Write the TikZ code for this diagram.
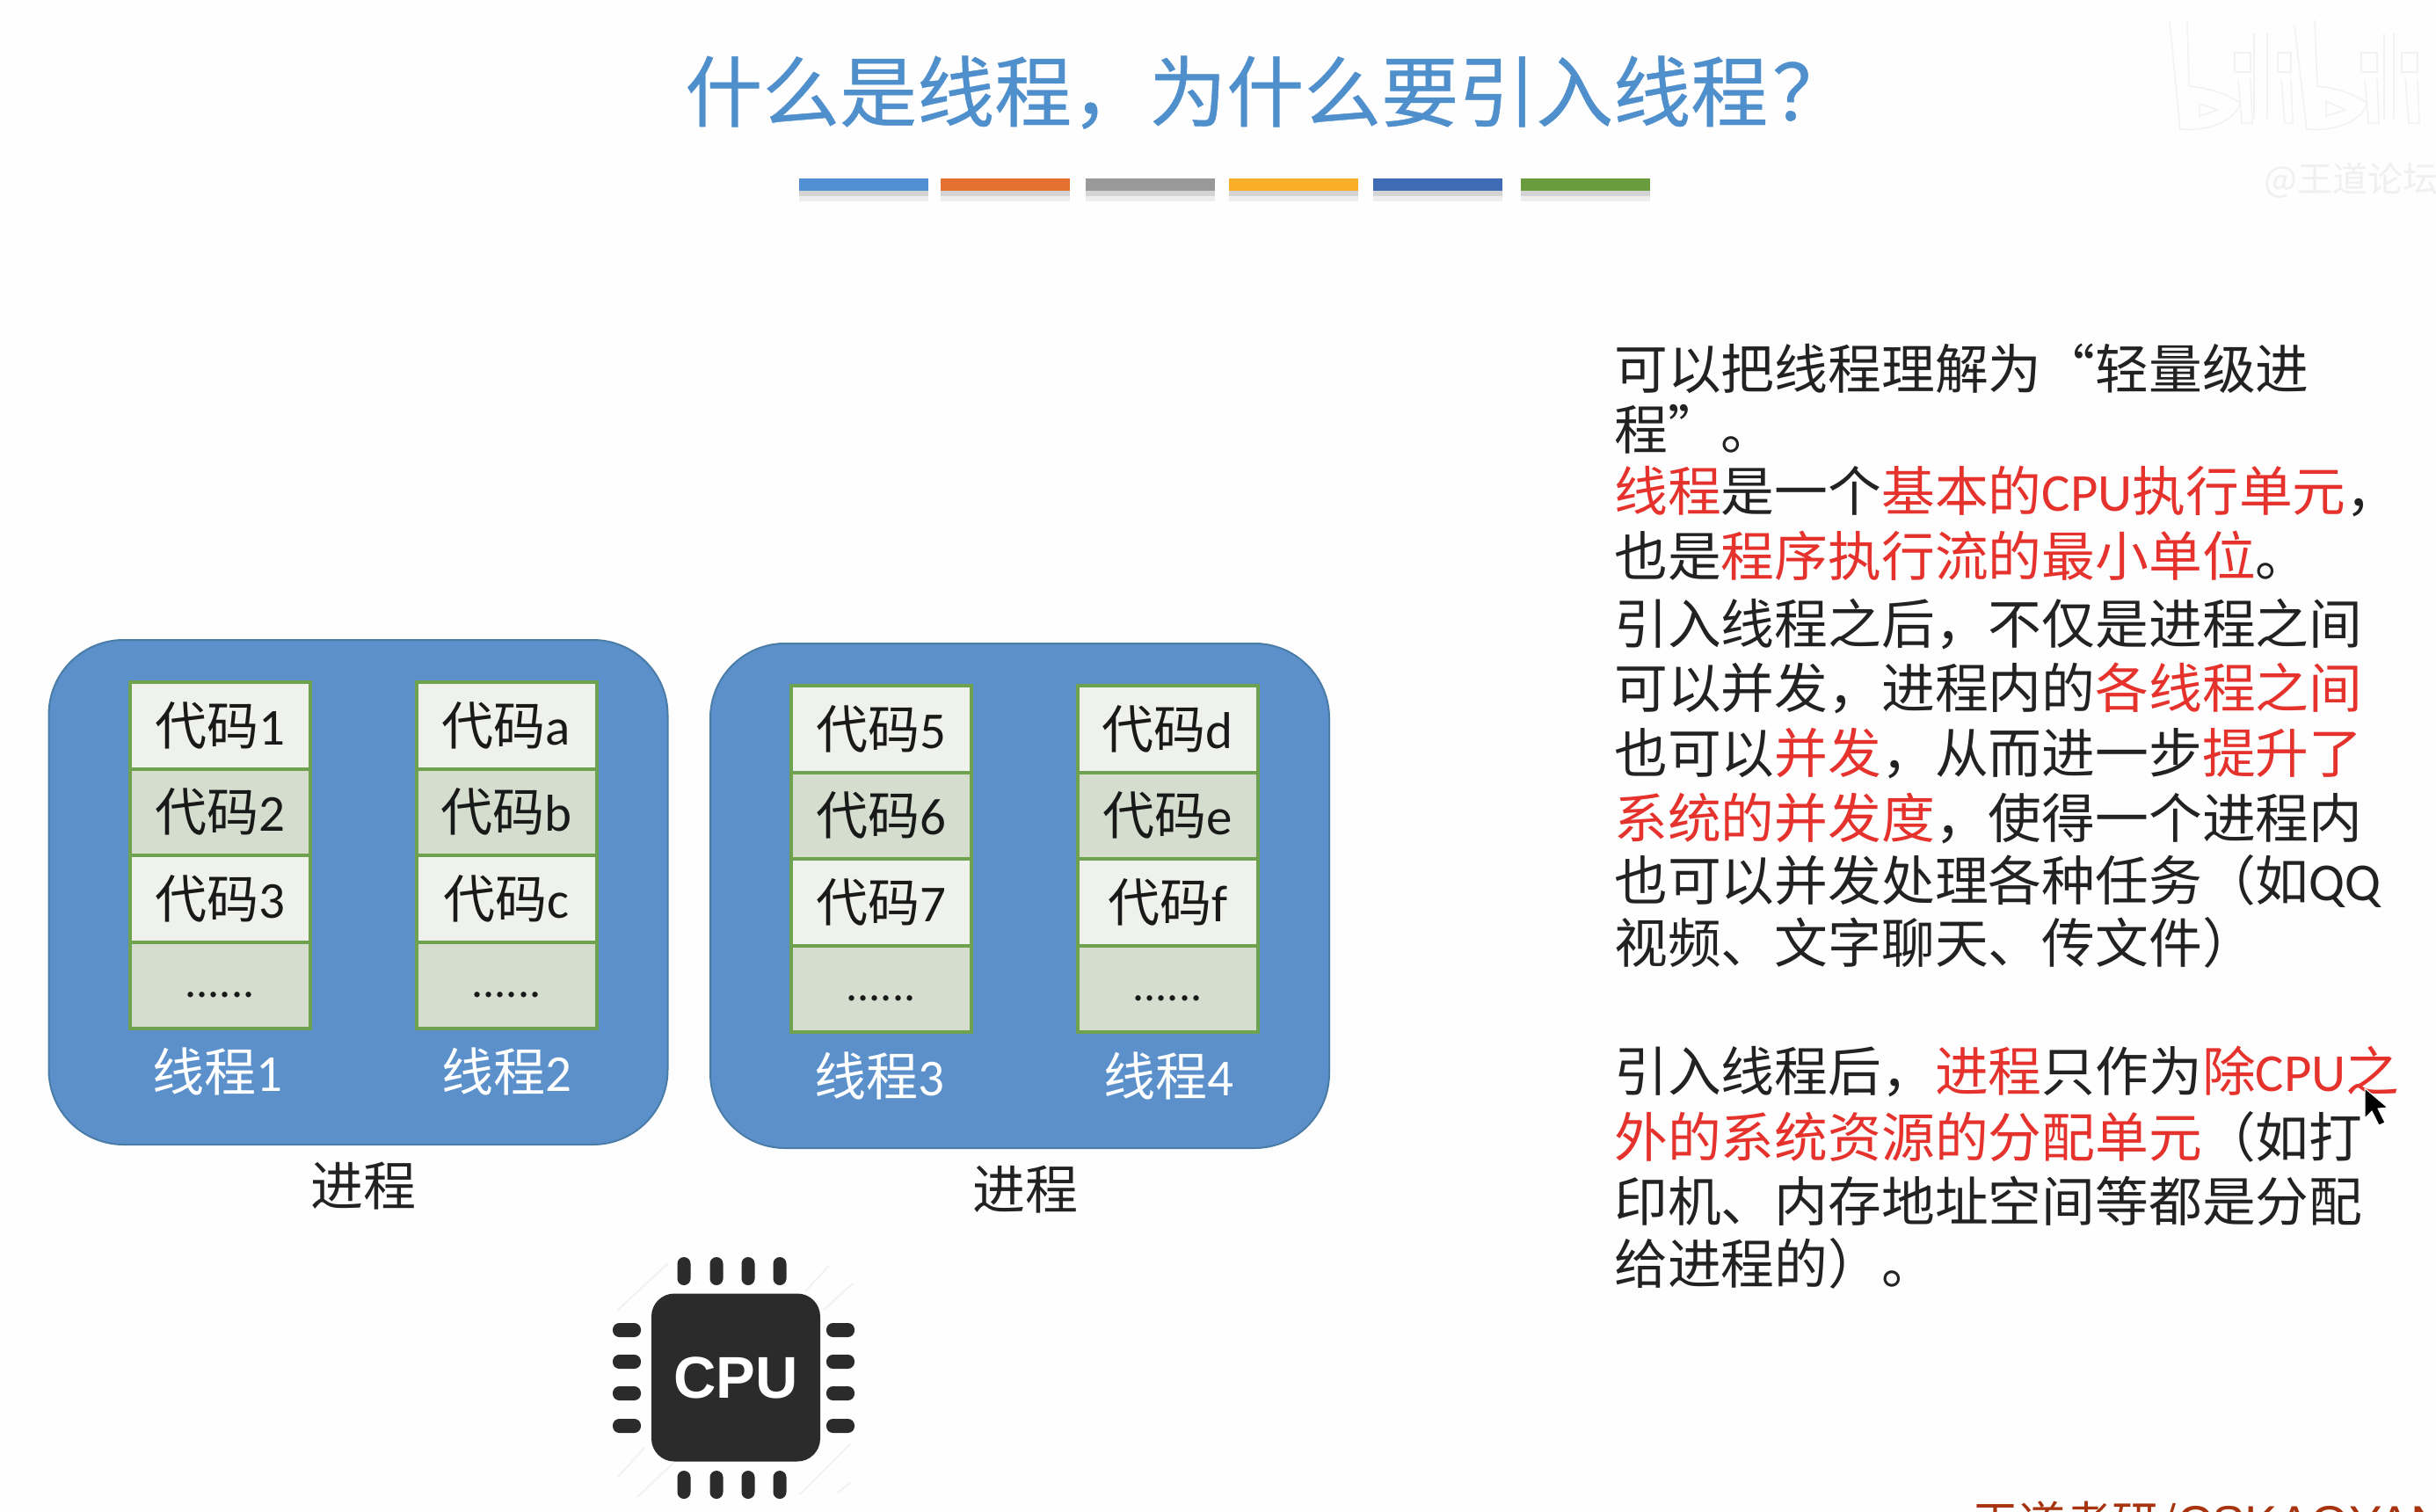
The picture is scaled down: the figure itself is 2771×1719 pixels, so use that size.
\documentclass[tikz,border=0pt]{standalone}
\usepackage{fontspec}
\setmainfont{Noto Sans CJK SC}
\newfontfamily\titlef[FakeBold=0.5]{Noto Sans CJK SC}
\newfontfamily\latinf{Carlito}
\newfontfamily\cpuf{Liberation Sans}
\usetikzlibrary{calc}
\definecolor{titleblue}{HTML}{4F8FCB}
\definecolor{procblue}{HTML}{5B90CB}
\definecolor{procedge}{HTML}{4A7CA8}
\definecolor{rowlight}{HTML}{EEF1EC}
\definecolor{rowdark}{HTML}{D5DDCF}
\definecolor{rowedge}{HTML}{6FA24E}
\definecolor{redtxt}{HTML}{E5322D}
\definecolor{txt}{HTML}{222222}
\definecolor{chip}{HTML}{2B2B2B}
\definecolor{brand}{HTML}{A8340F}
\newcommand{\lat}[1]{{\latinf #1}}
\newcommand{\rd}[1]{\textcolor{redtxt}{#1}}
\tikzset{
  para/.style={anchor=base west,inner sep=0pt,font=\fontsize{60.8}{61}\selectfont,text=txt},
  procbox/.style={draw=procedge,line width=2pt,fill=procblue,rounded corners=85pt,minimum width=704pt,minimum height=574pt,inner sep=0pt},
  rowbox/.style={draw=rowedge,line width=4pt,minimum width=205pt,minimum height=98.5pt,inner sep=0pt,font=\fontsize{59}{59}\selectfont,text=black!90},
  thlabel/.style={inner sep=0pt,text=white,font=\fontsize{59}{59}\selectfont},
  proclabel/.style={inner sep=0pt,text=txt,font=\fontsize{60}{60}\selectfont},
  barbox/.style={inner sep=0pt,minimum width=147pt,minimum height=14pt},
  barshadow/.style={inner sep=0pt,minimum width=147pt,minimum height=6pt},
  pinv/.style={fill=chip,rounded corners=7.5pt,minimum width=15pt,minimum height=32pt,inner sep=0pt},
  pinh/.style={fill=chip,rounded corners=7.5pt,minimum width=32pt,minimum height=16pt,inner sep=0pt},
  faint/.style={line width=2pt,line cap=round},
  wmline/.style={draw=black!5,line width=1.5pt}
}
% name, x centre, y of top, three labels
\newcommand{\stackcol}[6]{%
  \node[rowbox,fill=rowlight] (#1r1) at (#2,#3+49.25) {#4};
  \node[rowbox,fill=rowdark]  (#1r2) at (#2,#3+147.75) {#5};
  \node[rowbox,fill=rowlight] (#1r3) at (#2,#3+246.25) {#6};
  \node[rowbox,fill=rowdark]  (#1r4) at (#2,#3+344.75) {\fontsize{52}{52}\selectfont\raisebox{-0.55em}{\lat{......}}};
}
\newcommand{\tl}[3]{\node[para] (#1) at (1836,#2) {#3};}
\begin{document}
\begin{tikzpicture}[x=1pt,y=-1pt]
\useasboundingbox (0,0) rectangle (2771,1719);
\fill[white!99.6!black] (0,0) rectangle (2771,1719);
\clip (0,0) rectangle (2771,1719);

% title
\node[anchor=west,inner sep=0pt,text=titleblue,font=\fontsize{88}{88}\selectfont\titlef] (title) at (779,105) {什么是线程，为什么要引入线程\hspace{5pt}？};

% bars
\foreach \nm/\xc/\col in {a/982/4F8FD2,b/1143/E6702F,c/1308/999999,d/1471/F8AE28,e/1635/3E6BB3,f/1803/689C3C}{
  \definecolor{barcol}{HTML}{\col}
  \node[barshadow,fill=black!17] (sh\nm) at (\xc,220) {};
  \node[barshadow,fill=black!7] (so\nm) at (\xc,226) {};
  \node[barbox,fill=barcol] (bar\nm) at (\xc,210) {};
}

% watermark (faint)
\draw[wmline] (2468,25) -- (2480,147) .. controls (2515,150) and (2545,135) .. (2548,117) .. controls (2530,105) and (2510,100) .. (2490,98) -- (2488,25);
\draw[wmline] (2610,30) -- (2624,147) .. controls (2660,150) and (2690,135) .. (2692,117) .. controls (2675,105) and (2655,100) .. (2636,98) -- (2633,23);
\draw[wmline] (2502,118) -- (2502,132) -- (2522,125) -- cycle;
\draw[wmline] (2646,115) -- (2646,132) -- (2668,125) -- cycle;
\foreach \a/\b in {2542/2560,2591/2606,2686/2704,2732/2750}{
  \draw[wmline] (\a,60) rectangle (\b,82);
  \draw[wmline] (\a+4,90) -- (\a+8,140) -- (\b+2,140) -- (\b,90);
}
\foreach \a in {2564,2579,2712,2723}{
  \draw[wmline] (\a,38) -- (\a,135);
}
\node[anchor=west,inner sep=0pt,text=black!6,font=\fontsize{40}{40}\selectfont] (wm) at (2575,205) {@王道论坛};

% processes
\node[procbox] (p1) at (407.5,1015) {};
\node[procbox] (p2) at (1160,1019) {};
\stackcol{s1}{250}{776}{代码\lat{1}}{代码\lat{2}}{代码\lat{3}}
\stackcol{s2}{576}{776}{代码\lat{a}}{代码\lat{b}}{代码\lat{c}}
\stackcol{s3}{1002}{780}{代码\lat{5}}{代码\lat{6}}{代码\lat{7}}
\stackcol{s4}{1328}{780}{代码\lat{d}}{代码\lat{e}}{代码\lat{f}}
\node[thlabel] (t1) at (247,1219) {线程\lat{1}};
\node[thlabel] (t2) at (576,1219) {线程\lat{2}};
\node[thlabel] (t3) at (1000,1224) {线程\lat{3}};
\node[thlabel] (t4) at (1329,1224) {线程\lat{4}};
\node[proclabel] (pl1) at (413,1349) {进程};
\node[proclabel] (pl2) at (1166,1353) {进程};

% CPU
\foreach \a/\b/\c/\d in {703/1490/760/1437,917/1468/943/1440,937/1490/970/1460,703/1680/733/1647,725/1703/767/1663,910/1700/967/1643,953/1698/967/1687}{
  \draw[faint,draw=black!5] (\a,\b) -- (\c,\d);
}
\node[fill=chip,rounded corners=26pt,minimum width=192pt,minimum height=191pt,inner sep=0pt,text=white,font=\fontsize{67}{67}\selectfont\cpuf\bfseries] (cpu) at (837,1567) {\raisebox{-2pt}{CPU}};
\foreach \i/\p in {1/778,2/815,3/851,4/887}{
  \node[pinv] (pt\i) at (\p,1446) {};
  \node[pinv] (pb\i) at (\p,1689) {};
}
\foreach \i/\p in {1/1513,2/1549,3/1585,4/1622}{
  \node[pinh] (pl\i) at (713,\p) {};
  \node[pinh] (pr\i) at (956,\p) {};
}

% right text
\tl{l1}{442}{可以把线程理解为“轻量级进}
\tl{l2}{511}{程”。}
\tl{l3}{581}{\rd{线程}是一个\rd{基本的\lat{CPU}执行单元}，}
\tl{l4}{655}{也是\rd{程序执行流的最小单位}。}
\tl{l5}{732}{引入线程之后，不仅是进程之间}
\tl{l6}{805}{可以并发，进程内的\rd{各线程之间}}
\tl{l7}{879}{也可以\rd{并发}，从而进一步\rd{提升了}}
\tl{l8}{953}{\rd{系统的并发度}，使得一个进程内}
\tl{l9}{1024}{也可以并发处理各种任务（如\lat{QQ}}
\tl{l10}{1095}{视频、文字聊天、传文件）}
\tl{l11}{1241}{引入线程后，\rd{进程}只作为\rd{除\lat{CPU}之}}
\tl{l12}{1316}{\rd{外的系统资源的分配单元}（如打}
\tl{l13}{1389}{印机、内存地址空间等都是分配}
\tl{l14}{1460}{给进程的）。}

% cursor
\fill[black,draw=white,line width=1pt] (2690,1238) -- (2690,1272) -- (2698,1264) -- (2706,1280) -- (2713,1277) -- (2705,1261) -- (2716,1260) -- cycle;

% brand
\node[anchor=base west,inner sep=0pt,text=brand,font=\fontsize{53}{53}\selectfont] (brand) at (2243,1752) {王道考研/{\cpuf\fontsize{56}{56}\selectfont CSKAOYAN}};
\end{tikzpicture}
\end{document}
